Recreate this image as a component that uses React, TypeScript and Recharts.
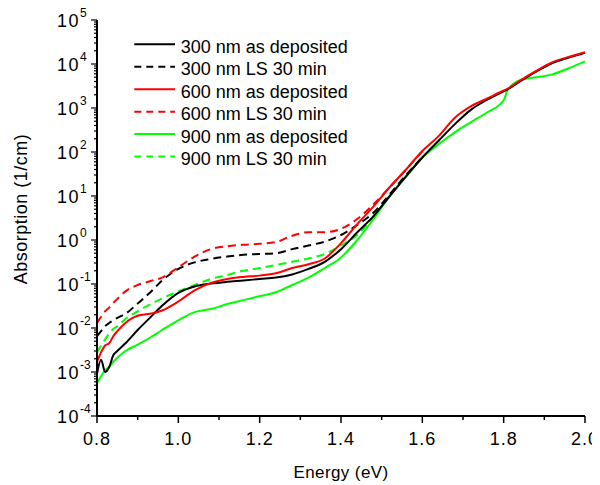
import { LineChart, Line, XAxis, YAxis, Legend, Label } from "recharts"

// photon energy grid (eV)
const ENERGY = [
  0.8, 0.81, 0.82, 0.83, 0.84, 0.85, 0.87, 0.9, 0.93, 0.96, 1.0, 1.04, 1.08, 1.12, 1.16, 1.2,
  1.24, 1.28, 1.32, 1.36, 1.4, 1.44, 1.48, 1.52, 1.56, 1.6, 1.64, 1.68, 1.72, 1.76, 1.8, 1.81,
  1.84, 1.88, 1.92, 1.96, 2.0,
]

// absorption (1/cm)
const ABS_300_DEP = [
  0.0009, 0.0019, 0.001, 0.0013, 0.0024, 0.003, 0.0045, 0.009, 0.017, 0.032, 0.063, 0.088, 0.102,
  0.112, 0.12, 0.13, 0.14, 0.165, 0.22, 0.32, 0.62, 1.5, 3.5, 10, 28, 75, 180, 430, 920, 1550,
  2400, 2650, 4000, 6700, 10500, 14000, 18000,
]
const ABS_300_LS = [
  0.0065, 0.0085, 0.011, 0.013, 0.015, 0.017, 0.021, 0.036, 0.063, 0.12, 0.22, 0.31, 0.37, 0.42,
  0.46, 0.48, 0.5, 0.62, 0.75, 0.92, 1.3, 2.2, 4.2, 11, 30, 76,
]
const ABS_600_DEP = [
  0.0017, 0.0028, 0.004, 0.0045, 0.0065, 0.0085, 0.013, 0.019, 0.021, 0.025, 0.04, 0.072, 0.105,
  0.13, 0.145, 0.155, 0.175, 0.23, 0.28, 0.38, 0.85, 2.3, 5.8, 16, 40, 105, 230, 600, 1100, 1650,
  2500, 2750, 4200, 7000, 11000, 14500, 18500,
]
const ABS_600_LS = [
  0.013, 0.018, 0.024, 0.029, 0.037, 0.046, 0.068, 0.095, 0.115, 0.14, 0.24, 0.42, 0.62, 0.72,
  0.78, 0.82, 0.9, 1.25, 1.5, 1.5, 1.8, 3.0, 6.5, 16, 40, 105,
]
const ABS_900_DEP = [
  0.00056, 0.0008, 0.0011, 0.0013, 0.0017, 0.0021, 0.003, 0.0042, 0.006, 0.009, 0.015, 0.023,
  0.027, 0.035, 0.043, 0.053, 0.065, 0.095, 0.14, 0.23, 0.4, 1.0, 3.0, 10, 28, 75, 150, 280, 480,
  800, 1500, 2600, 4300, 5000, 5800, 8000, 11500,
]
const ABS_900_LS = [
  0.0028, 0.004, 0.0055, 0.0075, 0.0095, 0.011, 0.016, 0.024, 0.034, 0.047, 0.068, 0.095, 0.13,
  0.16, 0.2, 0.23, 0.27, 0.32, 0.38, 0.48, 0.75, 1.3, 3.4, 10, 28, 75,
]

const X_MAJOR = [0.8, 1.0, 1.2, 1.4, 1.6, 1.8, 2.0]
const X_MINOR = [0.9, 1.1, 1.3, 1.5, 1.7, 1.9]
const Y_EXPONENTS = [-4, -3, -2, -1, 0, 1, 2, 3, 4, 5]

const SERIES = [
  { key: "d300", name: "300 nm as deposited", color: "#000000", dashed: false, values: ABS_300_DEP },
  { key: "l300", name: "300 nm LS 30 min", color: "#000000", dashed: true, values: ABS_300_LS },
  { key: "d600", name: "600 nm as deposited", color: "#ff0000", dashed: false, values: ABS_600_DEP },
  { key: "l600", name: "600 nm LS 30 min", color: "#ff0000", dashed: true, values: ABS_600_LS },
  { key: "d900", name: "900 nm as deposited", color: "#00ff00", dashed: false, values: ABS_900_DEP },
  { key: "l900", name: "900 nm LS 30 min", color: "#00ff00", dashed: true, values: ABS_900_LS },
]
const DRAW_ORDER = ["l900", "d900", "l300", "d300", "l600", "d600"]

const FONT = '"Liberation Sans", Arial, sans-serif'
const DASH = "8 5"

const rows = ENERGY.map((e, i) => {
  const row: Record<string, number | null> = { e }
  SERIES.forEach((s) => {
    row[s.key] = s.values[i] ?? null
  })
  return row
})

const yTicks: number[] = []
Y_EXPONENTS.forEach((p) => {
  if (p === 5) {
    yTicks.push(1e5)
    return
  }
  for (let m = 1; m <= 9; m++) yTicks.push(m * Math.pow(10, p))
})

function XTick({ x, y, payload }: any) {
  const v = payload.value
  const major = X_MAJOR.some((t) => Math.abs(t - v) < 1e-6)
  return (
    <g>
      <line x1={x} x2={x} y1={y} y2={y + (major ? 7 : 4)} stroke="#000" strokeWidth={1.5} />
      {major && (
        <text x={x} y={y + 29} textAnchor="middle" fontSize={18} fontFamily={FONT} fill="#000" letterSpacing={1}>
          {v.toFixed(1)}
        </text>
      )}
    </g>
  )
}

function YTick({ x, y, payload }: any) {
  const lg = Math.log10(payload.value)
  const major = Math.abs(lg - Math.round(lg)) < 1e-6
  return (
    <g>
      <line x1={x} x2={x - (major ? 6 : 3)} y1={y} y2={y} stroke="#000" strokeWidth={1.2} />
      {major && (
        <text x={57} y={y + 6.5} fontSize={18} fontFamily={FONT} fill="#000">
          <tspan letterSpacing={1.5}>10</tspan>
          <tspan fontSize={12} dy={-9.5}>
            {Math.round(lg)}
          </tspan>
        </text>
      )}
    </g>
  )
}

function LegendBox() {
  return (
    <svg width={240} height={150} style={{ display: "block" }}>
      {SERIES.map((s, i) => (
        <g key={s.key}>
          <line
            x1={4.3}
            x2={45}
            y1={14.3 + 22.45 * i}
            y2={14.3 + 22.45 * i}
            stroke={s.color}
            strokeWidth={2}
            strokeDasharray={s.dashed ? "7 5" : undefined}
          />
          <text x={50.7} y={22.7 + 22.45 * i} fontSize={18} fontFamily={FONT} fill="#000">
            {s.name}
          </text>
        </g>
      ))}
    </svg>
  )
}

export default function App() {
  // pull the chart over the body's 8px margin so chart coords equal page coords
  return (
    <div style={{ width: 600, height: 485, margin: "-8px 0 0 -8px", fontFamily: FONT }}>
      <LineChart width={600} height={485} data={rows} margin={{ top: 20, right: 15, bottom: 0, left: 0 }}>
        <XAxis
          dataKey="e"
          type="number"
          domain={[0.8, 2.0]}
          ticks={[...X_MAJOR, ...X_MINOR].sort((a, b) => a - b)}
          interval={0}
          height={69}
          tickSize={0}
          tickMargin={0}
          tickLine={false}
          axisLine={{ stroke: "#000", strokeWidth: 2 }}
          tick={<XTick />}
        >
          <Label value="Energy (eV)" position="insideBottom" offset={7} fontSize={17} fill="#000" letterSpacing={0.4} />
        </XAxis>
        <YAxis
          scale="log"
          type="number"
          domain={[1e-4, 1e5]}
          ticks={yTicks}
          interval={0}
          width={97}
          tickSize={0}
          tickMargin={0}
          tickLine={false}
          axisLine={{ stroke: "#000", strokeWidth: 2 }}
          tick={<YTick />}
          allowDataOverflow
        >
          <Label
            content={() => (
              <text
                transform="translate(27, 209) rotate(-90)"
                textAnchor="middle"
                fontSize={18}
                fontFamily={FONT}
                fill="#000"
                letterSpacing={0.5}
              >
                Absorption (1/cm)
              </text>
            )}
          />
        </YAxis>
        <Legend
          layout="vertical"
          align="center"
          verticalAlign="middle"
          wrapperStyle={{ top: 30, left: 130, width: 240, height: 150 }}
          content={() => <LegendBox />}
        />
        {DRAW_ORDER.map((k) => {
          const s = SERIES.find((x) => x.key === k)!
          return (
            <Line
              key={s.key}
              dataKey={s.key}
              name={s.name}
              type="monotone"
              stroke={s.color}
              strokeWidth={2}
              strokeDasharray={s.dashed ? DASH : undefined}
              dot={false}
              activeDot={false}
              isAnimationActive={false}
              connectNulls={false}
            />
          )
        })}
      </LineChart>
    </div>
  )
}
